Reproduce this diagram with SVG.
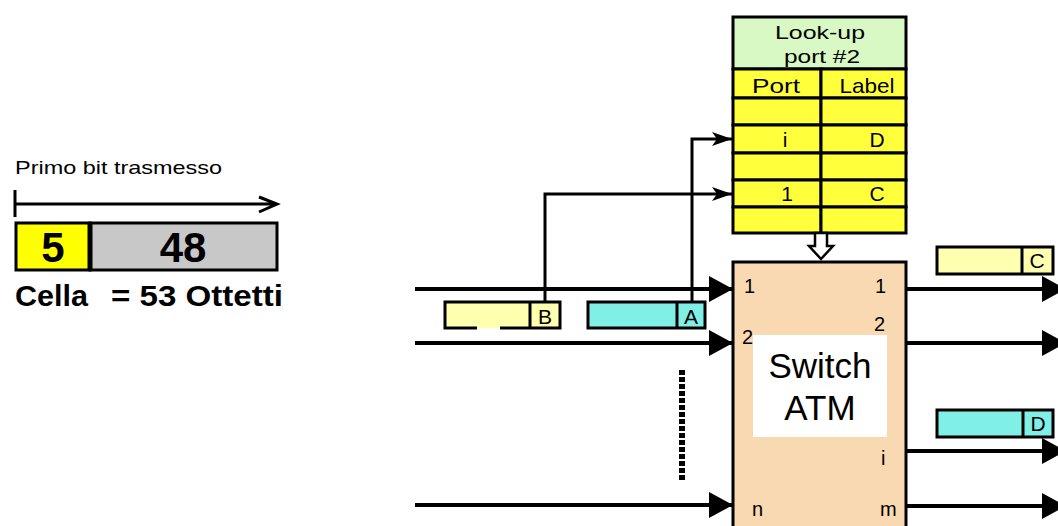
<svg xmlns="http://www.w3.org/2000/svg" width="1058" height="526" viewBox="0 0 1058 526">
<defs>
<style>
.t{font-family:"Liberation Sans",Arial,sans-serif;fill:#000}
.ln{stroke:#000;stroke-width:4;fill:none}
.thin{stroke:#000;stroke-width:3;fill:none}
.box{stroke:#000;stroke-width:3}
.yel{fill:#FFFFB0}
.cy{fill:#80F0E6}
.row{fill:#FFFF3C;stroke:#000;stroke-width:3}
</style>
<marker id="big" markerUnits="userSpaceOnUse" markerWidth="24" markerHeight="26" refX="24" refY="13" orient="auto">
<path d="M0,0 L24,13 L0,26 Z" fill="#000"/>
</marker>
<marker id="small" markerUnits="userSpaceOnUse" markerWidth="20" markerHeight="14" refX="20" refY="7" orient="auto">
<path d="M0,0 L20,7 L0,14 L5,7 Z" fill="#000"/>
</marker>
</defs>
<rect width="1058" height="526" fill="#fff"/>

<g id="cell-format">
<text class="t" x="15" y="174" font-size="19" textLength="207" lengthAdjust="spacingAndGlyphs">Primo bit trasmesso</text>
<path d="M15,190 V217 M15,204 H277 M259,197 L277,204 L259,212" class="thin"/>
<rect x="16" y="223" width="74" height="47" fill="#FFFF00" class="box"/>
<rect x="90" y="223" width="187" height="47" fill="#C8C8C8" class="box"/>
<line x1="90" y1="223" x2="90" y2="270" stroke="#000" stroke-width="5"/>
<text class="t" x="53" y="262" font-size="42" font-weight="bold" text-anchor="middle">5</text>
<text class="t" x="183" y="262" font-size="42" font-weight="bold" text-anchor="middle">48</text>
<text class="t" x="15" y="306" font-size="29" font-weight="bold" fill="#222" textLength="73" lengthAdjust="spacingAndGlyphs">Cella</text>
<text class="t" x="111" y="306" font-size="29" font-weight="bold" fill="#222" textLength="172" lengthAdjust="spacingAndGlyphs">= 53 Ottetti</text>
</g>

<g id="lookup-table">
<rect x="733" y="17" width="173" height="52" fill="#D8F8C4" class="box"/>
<text class="t" x="820" y="39" font-size="19" text-anchor="middle" fill="#222" textLength="90" lengthAdjust="spacingAndGlyphs">Look-up</text>
<text class="t" x="822" y="63" font-size="19" text-anchor="middle" fill="#222" textLength="76" lengthAdjust="spacingAndGlyphs">port #2</text>
<rect x="733" y="69" width="88" height="29" class="row"/>
<rect x="821" y="69" width="85" height="29" class="row"/>
<rect x="733" y="98" width="88" height="27" class="row"/>
<rect x="821" y="98" width="85" height="27" class="row"/>
<rect x="733" y="125" width="88" height="28" class="row"/>
<rect x="821" y="125" width="85" height="28" class="row"/>
<rect x="733" y="153" width="88" height="27" class="row"/>
<rect x="821" y="153" width="85" height="27" class="row"/>
<rect x="733" y="180" width="88" height="27" class="row"/>
<rect x="821" y="180" width="85" height="27" class="row"/>
<rect x="733" y="207" width="88" height="26" class="row"/>
<rect x="821" y="207" width="85" height="26" class="row"/>
<text class="t" x="776" y="93" font-size="21" text-anchor="middle" textLength="48" lengthAdjust="spacingAndGlyphs">Port</text>
<text class="t" x="867" y="93" font-size="21" text-anchor="middle" textLength="55" lengthAdjust="spacingAndGlyphs">Label</text>
<text class="t" x="785" y="147" font-size="21" text-anchor="middle">i</text>
<text class="t" x="877" y="147" font-size="21" text-anchor="middle">D</text>
<text class="t" x="787" y="201" font-size="21" text-anchor="middle">1</text>
<text class="t" x="877" y="201" font-size="21" text-anchor="middle">C</text>
<path d="M815,233 H827 V246 H833 L821,259 L809,246 H815 Z" fill="#fff" stroke="#000" stroke-width="2.5"/>
</g>

<g id="switch-atm">
<rect x="733" y="262" width="173" height="280" fill="#F9D9B2" class="box"/>
<rect x="753" y="335" width="134" height="102" fill="#fff"/>
<text class="t" x="820" y="378" font-size="35" text-anchor="middle" fill="#333">Switch</text>
<text class="t" x="820" y="420" font-size="35" text-anchor="middle" fill="#333">ATM</text>
<text class="t" x="744" y="293" font-size="20">1</text>
<text class="t" x="742" y="344" font-size="20">2</text>
<text class="t" x="752" y="516" font-size="20">n</text>
<text class="t" x="875" y="293" font-size="20">1</text>
<text class="t" x="874" y="331" font-size="20">2</text>
<text class="t" x="881" y="465" font-size="20">i</text>
<text class="t" x="880" y="516" font-size="20">m</text>
</g>

<g id="cell-B">
<rect x="445" y="302" width="85" height="26" class="yel"/>
<rect x="530" y="302" width="30" height="26" class="yel"/>
<path d="M477,328 H445 V302 H560 V328 H500" class="thin"/>
<line x1="530" y1="302" x2="530" y2="328" stroke="#000" stroke-width="3"/>
<text class="t" x="545" y="324" font-size="21" text-anchor="middle">B</text>
</g>

<g id="cell-A">
<rect x="588" y="302" width="117" height="26" class="cy box"/>
<line x1="677" y1="302" x2="677" y2="328" stroke="#000" stroke-width="3"/>
<text class="t" x="691" y="324" font-size="21" text-anchor="middle">A</text>
</g>

<g id="cell-C">
<rect x="937" y="247" width="116" height="27" class="yel box"/>
<line x1="1022" y1="247" x2="1022" y2="274" stroke="#000" stroke-width="3"/>
<text class="t" x="1037" y="268" font-size="21" text-anchor="middle">C</text>
</g>

<g id="cell-D">
<rect x="937" y="410" width="116" height="27" class="cy box"/>
<line x1="1023" y1="410" x2="1023" y2="437" stroke="#000" stroke-width="3"/>
<text class="t" x="1038" y="431" font-size="21" text-anchor="middle">D</text>
</g>

<g id="connectors">
<line x1="415" y1="289" x2="733" y2="289" class="ln" marker-end="url(#big)"/>
<line x1="415" y1="343" x2="733" y2="343" class="ln" marker-end="url(#big)"/>
<line x1="415" y1="505" x2="733" y2="505" class="ln" marker-end="url(#big)"/>
<line x1="682" y1="370" x2="682" y2="482" stroke="#000" stroke-width="6" stroke-dasharray="5 2"/>
<polyline points="545,302 545,194 732,194" class="thin" marker-end="url(#small)"/>
<polyline points="692,302 692,139 732,139" class="thin" marker-end="url(#small)"/>
<line x1="906" y1="289" x2="1066" y2="289" class="ln" marker-end="url(#big)"/>
<line x1="906" y1="343" x2="1066" y2="343" class="ln" marker-end="url(#big)"/>
<line x1="906" y1="451" x2="1066" y2="451" class="ln" marker-end="url(#big)"/>
<line x1="906" y1="506" x2="1066" y2="506" class="ln" marker-end="url(#big)"/>
</g>
</svg>
